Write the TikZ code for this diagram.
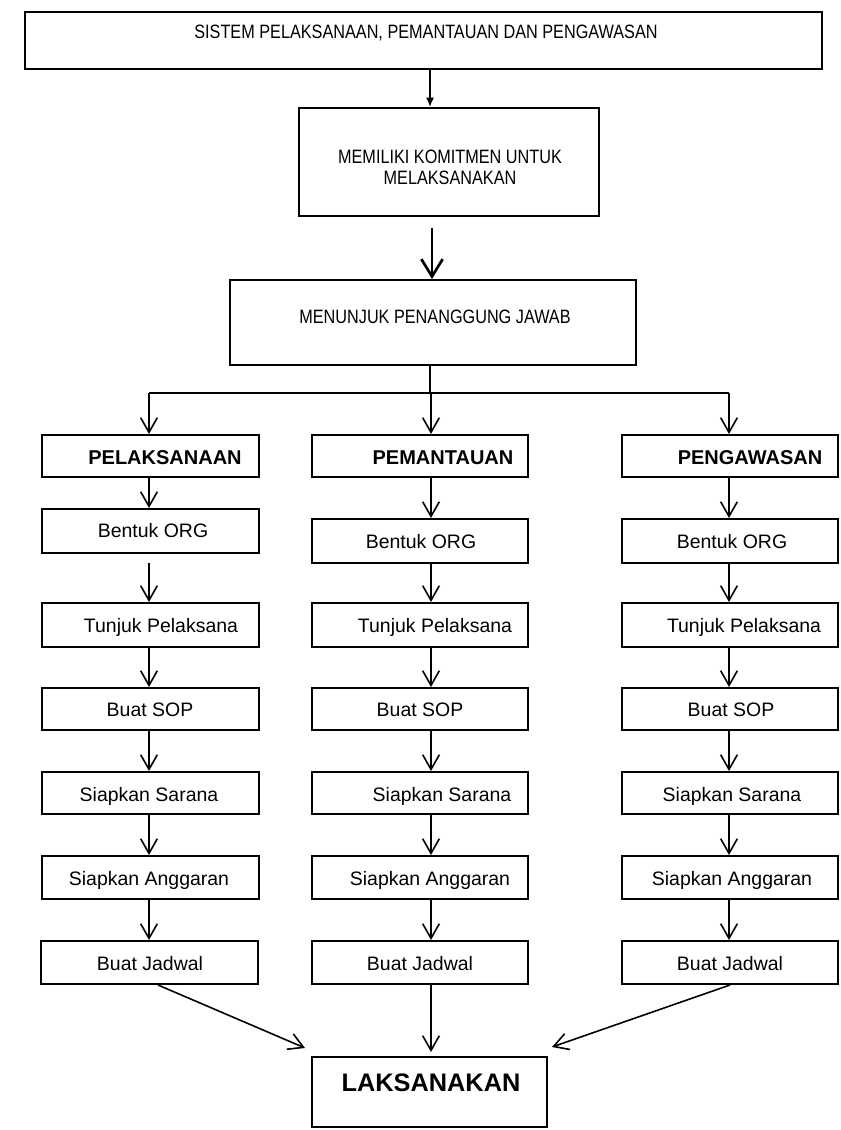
\documentclass[tikz,border=0pt]{standalone}
\usepackage{fontspec}
\setmainfont{Liberation Sans}
\newfontfamily\narrowfont{Liberation Sans}[FakeStretch=0.84]
\usetikzlibrary{arrows.meta,calc}
\tikzset{
  box/.style={draw, line width=1.5pt, inner sep=0pt, rectangle},
  nlbl/.style={inner sep=0pt, font=\narrowfont\fontsize{14.5}{15.75}\selectfont, align=center},
  clbl/.style={inner sep=0pt, font=\fontsize{14.6}{17}\selectfont, text height=10.45pt, text depth=0pt},
  hlbl/.style={inner sep=0pt, font=\bfseries\fontsize{15}{18}\selectfont, text height=10.75pt, text depth=0pt},
  biglbl/.style={inner sep=0pt, font=\bfseries\fontsize{19}{22}\selectfont, text height=13.6pt, text depth=0pt},
  arr/.style={line width=1.2pt, -{Straight Barb[length=11pt,width=12.5pt]}},
  smallarr/.style={line width=1.2pt, -{Latex[length=7pt,width=6pt]}},
  thickarr/.style={line width=2pt, -{Straight Barb[length=13pt,width=16pt]}},
  conn/.style={line width=1.2pt}
}
\newcommand\mkbox[5]{\node[box, minimum width={0.75*(#4-#2)}, minimum height={0.75*(#5-#3)}] (#1) at ({(#2+#4)/2},{(#3+#5)/2}) {};}
\begin{document}
\begin{tikzpicture}[x=0.75pt,y=-0.75pt]
\useasboundingbox (0,0) rectangle (840,1130);
% column axes
\coordinate (a1) at (149,0);
\coordinate (a2) at (431,0);
\coordinate (a3) at (729,0);
\coordinate (ax) at (430,0);
% top boxes
\mkbox{top}{25}{12}{822}{69}
\mkbox{kom}{299}{108}{599}{216}
\mkbox{pj}{230}{280}{636}{365}
% column boxes
\mkbox{h1}{42}{435}{259}{477}
\mkbox{h2}{312}{435}{528}{477}
\mkbox{h3}{622}{435}{838}{477}
\mkbox{b1}{42}{509}{259}{553}
\mkbox{b2}{312}{519}{528}{563}
\mkbox{b3}{622}{519}{838}{563}
\mkbox{t1}{42}{603}{259}{647}
\mkbox{t2}{312}{603}{528}{647}
\mkbox{t3}{622}{603}{838}{647}
\mkbox{s1}{42}{688}{259}{730}
\mkbox{s2}{312}{688}{528}{730}
\mkbox{s3}{622}{688}{838}{730}
\mkbox{r1}{42}{772}{259}{814}
\mkbox{r2}{312}{772}{528}{814}
\mkbox{r3}{622}{772}{838}{814}
\mkbox{g1}{42}{856}{259}{899}
\mkbox{g2}{312}{856}{528}{899}
\mkbox{g3}{622}{856}{838}{899}
\mkbox{j1}{41}{941}{258}{984}
\mkbox{j2}{312}{941}{528}{984}
\mkbox{j3}{622}{941}{838}{984}
\mkbox{lak}{312}{1057}{547}{1127}
% texts
\node[nlbl] (ttop) at (426,33) {SISTEM PELAKSANAAN, PEMANTAUAN DAN PENGAWASAN};
\node[nlbl] (tkom) at (450,167.5) {MEMILIKI KOMITMEN UNTUK\\MELAKSANAKAN};
\node[nlbl, text height=10.4pt, text depth=0pt] (tpj) at (435,317) {MENUNJUK PENANGGUNG JAWAB};
\node[hlbl] (th1) at (165,457.5) {PELAKSANAAN};
\node[hlbl] (th2) at (443,457.5) {PEMANTAUAN};
\node[hlbl] (th3) at (750,457.5) {PENGAWASAN};
\node[clbl] (tb1) at (153,531) {Bentuk ORG};
\node[clbl] (tb2) at (421,542) {Bentuk ORG};
\node[clbl] (tb3) at (732,542) {Bentuk ORG};
\node[clbl] (tt1) at (161,626) {Tunjuk Pelaksana};
\node[clbl] (tt2) at (435,626) {Tunjuk Pelaksana};
\node[clbl] (tt3) at (744,626) {Tunjuk Pelaksana};
\node[clbl] (ts1) at (150,710) {Buat SOP};
\node[clbl] (ts2) at (420,710) {Buat SOP};
\node[clbl] (ts3) at (731,710) {Buat SOP};
\node[clbl] (tr1) at (149,795) {Siapkan Sarana};
\node[clbl] (tr2) at (442,795) {Siapkan Sarana};
\node[clbl] (tr3) at (732,795) {Siapkan Sarana};
\node[clbl] (tg1) at (149,879) {Siapkan Anggaran};
\node[clbl] (tg2) at (430,879) {Siapkan Anggaran};
\node[clbl] (tg3) at (732,879) {Siapkan Anggaran};
\node[clbl] (tj1) at (150,964) {Buat Jadwal};
\node[clbl] (tj2) at (420,964) {Buat Jadwal};
\node[clbl] (tj3) at (730,964) {Buat Jadwal};
\node[biglbl] (tlak) at (431,1082) {LAKSANAKAN};
% top connectors
\draw[smallarr] (top.south -| ax) -- (kom.north -| ax);
\coordinate (ay) at (432,0);
\draw[thickarr, shorten <=8.25pt] (kom.south -| ay) -- (pj.north -| ay);
\coordinate (br) at (430,393);
\draw[conn] (pj.south -| ax) -- (br);
\draw[conn] (br -| a1) -- (br -| a3);
\draw[arr] (br -| a1) -- (h1.north -| a1);
\draw[arr] (br -| a2) -- (h2.north -| a2);
\draw[arr] (br -| a3) -- (h3.north -| a3);
% column 1
\draw[arr] (h1.south -| a1) -- (b1.north -| a1);
\draw[arr, shorten <=6.75pt] (b1.south -| a1) -- (t1.north -| a1);
\draw[arr] (t1.south -| a1) -- (s1.north -| a1);
\draw[arr] (s1.south -| a1) -- (r1.north -| a1);
\draw[arr] (r1.south -| a1) -- (g1.north -| a1);
\draw[arr] (g1.south -| a1) -- (j1.north -| a1);
% column 2
\draw[arr] (h2.south -| a2) -- (b2.north -| a2);
\draw[arr] (b2.south -| a2) -- (t2.north -| a2);
\draw[arr] (t2.south -| a2) -- (s2.north -| a2);
\draw[arr] (s2.south -| a2) -- (r2.north -| a2);
\draw[arr] (r2.south -| a2) -- (g2.north -| a2);
\draw[arr] (g2.south -| a2) -- (j2.north -| a2);
% column 3
\draw[arr] (h3.south -| a3) -- (b3.north -| a3);
\draw[arr] (b3.south -| a3) -- (t3.north -| a3);
\draw[arr] (t3.south -| a3) -- (s3.north -| a3);
\draw[arr] (s3.south -| a3) -- (r3.north -| a3);
\draw[arr] (r3.south -| a3) -- (g3.north -| a3);
\draw[arr] (g3.south -| a3) -- (j3.north -| a3);
% into LAKSANAKAN
\coordinate (d1) at (158,0);
\coordinate (d3) at (730,0);
\coordinate (e1) at (305,1048);
\coordinate (e2) at (431,1052);
\coordinate (e3) at (552,1047);
\draw[arr] (j1.south -| d1) -- (e1);
\draw[arr] (j2.south -| a2) -- (e2);
\draw[arr] (j3.south -| d3) -- (e3);
\end{tikzpicture}
\end{document}
